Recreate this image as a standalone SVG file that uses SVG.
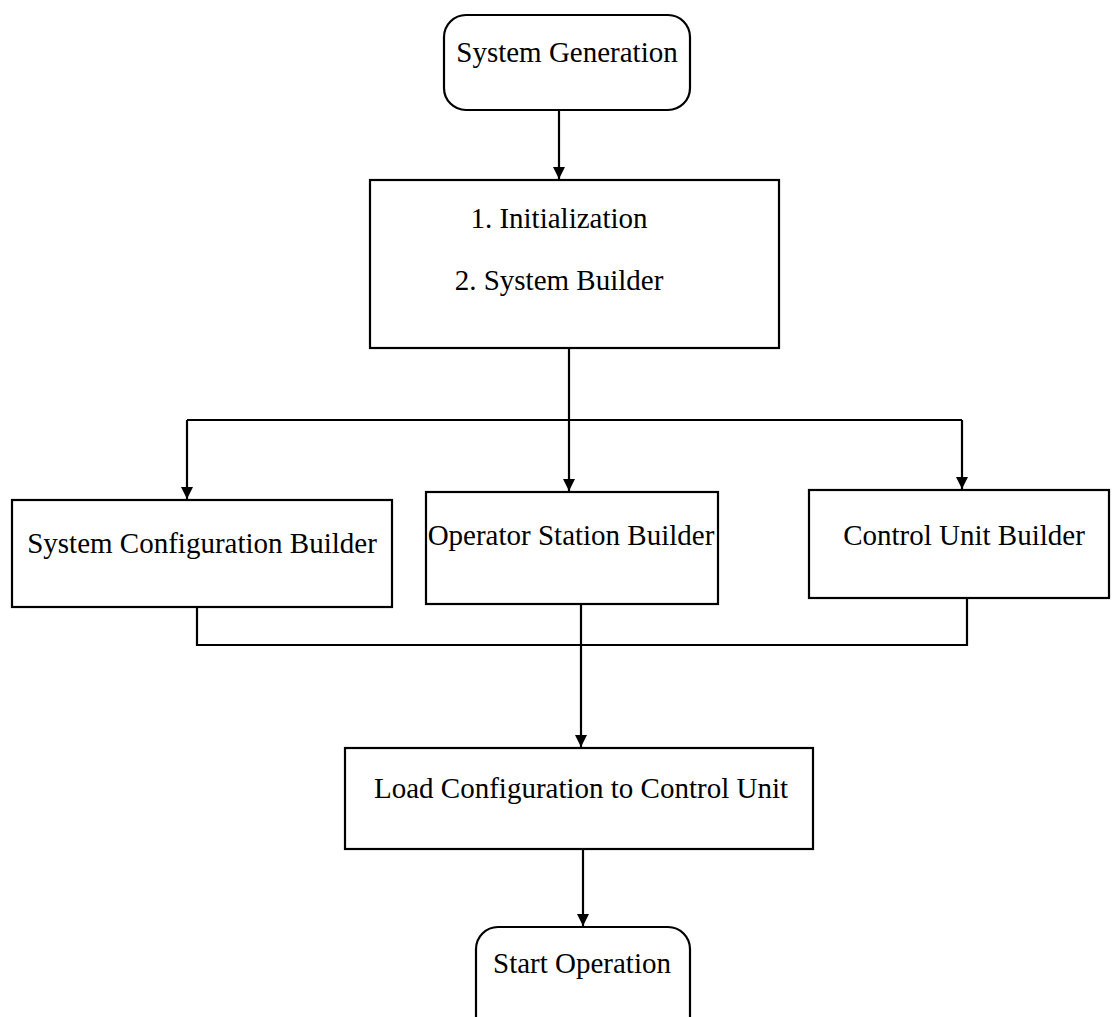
<svg xmlns="http://www.w3.org/2000/svg" width="1113" height="1017" viewBox="0 0 1113 1017">
<defs>
<marker id="ah" markerWidth="14" markerHeight="14" refX="12" refY="6" orient="auto" markerUnits="userSpaceOnUse">
<path d="M0,0 L12,6 L0,12 Z" fill="#000"/>
</marker>
<style>
.box{fill:#fff;stroke:#000;stroke-width:2.2}
.t{font-family:"Liberation Serif","Times New Roman",serif;font-size:29px;fill:#000;text-anchor:middle}
.c{fill:none;stroke:#000;stroke-width:2.2}
</style>
</defs>
<rect width="1113" height="1017" fill="#fff"/>
<g id="connectors">
<path class="c" d="M559,110 V179" marker-end="url(#ah)"/>
<path class="c" d="M569,348 V420"/>
<path class="c" d="M187,420 H962"/>
<path class="c" d="M187,420 V499" marker-end="url(#ah)"/>
<path class="c" d="M569,420 V491" marker-end="url(#ah)"/>
<path class="c" d="M962,420 V489" marker-end="url(#ah)"/>
<path class="c" d="M197,607 V645 H967 V598"/>
<path class="c" d="M581,604 V747" marker-end="url(#ah)"/>
<path class="c" d="M583,849 V926" marker-end="url(#ah)"/>
</g>
<g id="system-generation">
<rect class="box" x="444" y="15" width="246" height="95" rx="22"/>
<text class="t" x="567" y="62">System Generation</text>
</g>
<g id="init-builder">
<rect class="box" x="370" y="180" width="409" height="168"/>
<text class="t" x="559" y="228">1. Initialization</text>
<text class="t" x="559" y="290">2. System Builder</text>
</g>
<g id="system-configuration-builder">
<rect class="box" x="12" y="500" width="380" height="107"/>
<text class="t" x="202" y="553">System Configuration Builder</text>
</g>
<g id="operator-station-builder">
<rect class="box" x="426" y="492" width="292" height="112"/>
<text class="t" x="571" y="545">Operator Station Builder</text>
</g>
<g id="control-unit-builder">
<rect class="box" x="809" y="490" width="300" height="108"/>
<text class="t" x="964" y="545">Control Unit Builder</text>
</g>
<g id="load-configuration">
<rect class="box" x="345" y="748" width="468" height="101"/>
<text class="t" x="581" y="798">Load Configuration to Control Unit</text>
</g>
<g id="start-operation">
<rect class="box" x="476" y="927" width="214" height="115" rx="22"/>
<text class="t" x="582" y="973">Start Operation</text>
</g>
</svg>
